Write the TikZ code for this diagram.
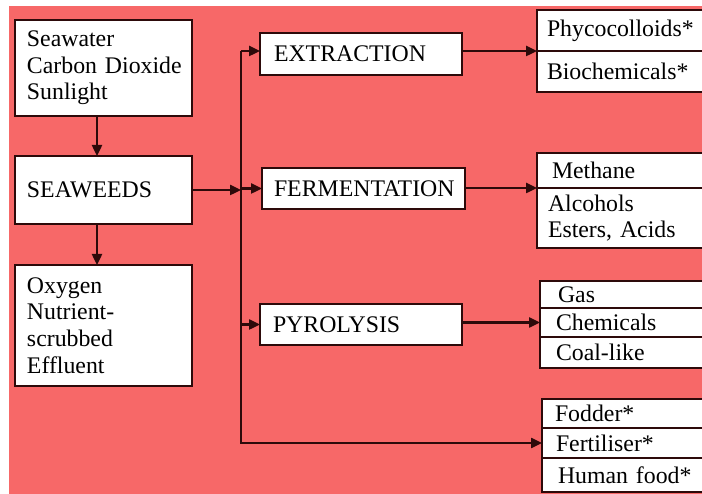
\documentclass[tikz,border=0pt]{standalone}
\usepackage{fontspec}
\setmainfont{Liberation Serif}
\usetikzlibrary{arrows.meta,calc}
\definecolor{bg}{RGB}{247,104,104}
\definecolor{ink}{RGB}{45,10,10}
\newcommand{\myboxfont}{\fontsize{23.8}{26.6}\selectfont}
\hyphenpenalty=10000
\exhyphenpenalty=10000
\frenchspacing
\begin{document}
\begin{tikzpicture}[x=1pt,y=-1pt,
  box/.style={draw=ink,line width=2.2pt,fill=white,anchor=north west,align=left,
    font=\myboxfont,inner ysep=0pt,outer sep=0pt},
  ln/.style={draw=ink,line width=2.4pt},
  arr/.style={ln,-{Triangle[length=11pt,width=10pt]}}]
\useasboundingbox (0,0) rectangle (702,494);
\clip (0,0) rectangle (702,494);
\fill[bg] (9,6) rectangle (702,494);
% left column
\node[box,minimum width=177pt,minimum height=96pt,text width=153pt,inner xsep=12pt] (top) at (15,20) {Seawater\\Carbon~Dioxide\\Sunlight};
\node[box,minimum width=177pt,minimum height=68pt,text width=153pt,inner xsep=12pt] (sea) at (15,156) {SEAWEEDS};
\node[box,minimum width=177pt,minimum height=121pt,text width=153pt,inner xsep=12pt] (out) at (15,265) {Oxygen\\Nutrient-\\scrubbed\\Effluent};
% processes
\node[box,minimum width=202pt,minimum height=42pt,text width=174pt,inner xsep=14pt] (ext) at (260,33) {EXTRACTION};
\node[box,minimum width=203pt,minimum height=41pt,text width=179pt,inner xsep=12pt] (fer) at (262,168) {FERMENTATION};
\node[box,minimum width=202pt,minimum height=41pt,text width=176pt,inner xsep=13pt] (pyr) at (260,304) {PYROLYSIS};
% products
\node[box,minimum height=41pt,text width=163pt,inner xsep=10pt] (phyco) at (537,10) {Phycocolloids*};
\node[box,minimum height=41pt,text width=163pt,inner xsep=10pt] (bio) at (537,51) {Biochemicals*};
\node[box,minimum height=35pt,text width=153pt,inner xsep=15pt] (meth) at (537,153) {Methane};
\node[box,minimum height=60pt,text width=161pt,inner xsep=11pt] (alc) at (537,188) {Alcohols\\Esters, Acids};
\node[box,minimum height=27pt,text width=144pt,inner xsep=18pt] (gas) at (540,281) {Gas};
\node[box,minimum height=29pt,text width=148pt,inner xsep=16pt] (chem) at (540,308) {Chemicals};
\node[box,minimum height=31pt,text width=148pt,inner xsep=16pt] (coal) at (540,337) {Coal-like};
\node[box,minimum height=29pt,text width=152pt,inner xsep=13pt] (fod) at (542,399) {Fodder*};
\node[box,minimum height=30pt,text width=150pt,inner xsep=14pt] (fert) at (542,428) {Fertiliser*};
\node[box,minimum height=34pt,text width=146pt,inner xsep=16pt] (hum) at (542,458) {Human food*};
% connectors
\coordinate (spine) at (241,0);
\draw[arr] ([xshift=-6.5pt]top.south) -- ([xshift=-6.5pt]sea.north);
\draw[arr] ([xshift=-6.5pt]sea.south) -- ([xshift=-6.5pt]out.north);
\draw[arr] (sea.east) -- (sea.east -| spine);
\draw[arr] (spine |- phyco.south) -- (spine |- fert.west) -- (fert.west);
\draw[arr] (spine |- phyco.south) -- (ext.west |- phyco.south);
\draw[arr] (spine |- fer.west) -- (fer.west);
\draw[arr] (spine |- pyr.west) -- (pyr.west);
\draw[arr] (ext.east |- phyco.south) -- (phyco.south west);
\draw[arr] (fer.east |- meth.south) -- (meth.south west);
\draw[arr] (pyr.east |- chem.west) -- (chem.west);
\end{tikzpicture}
\end{document}
